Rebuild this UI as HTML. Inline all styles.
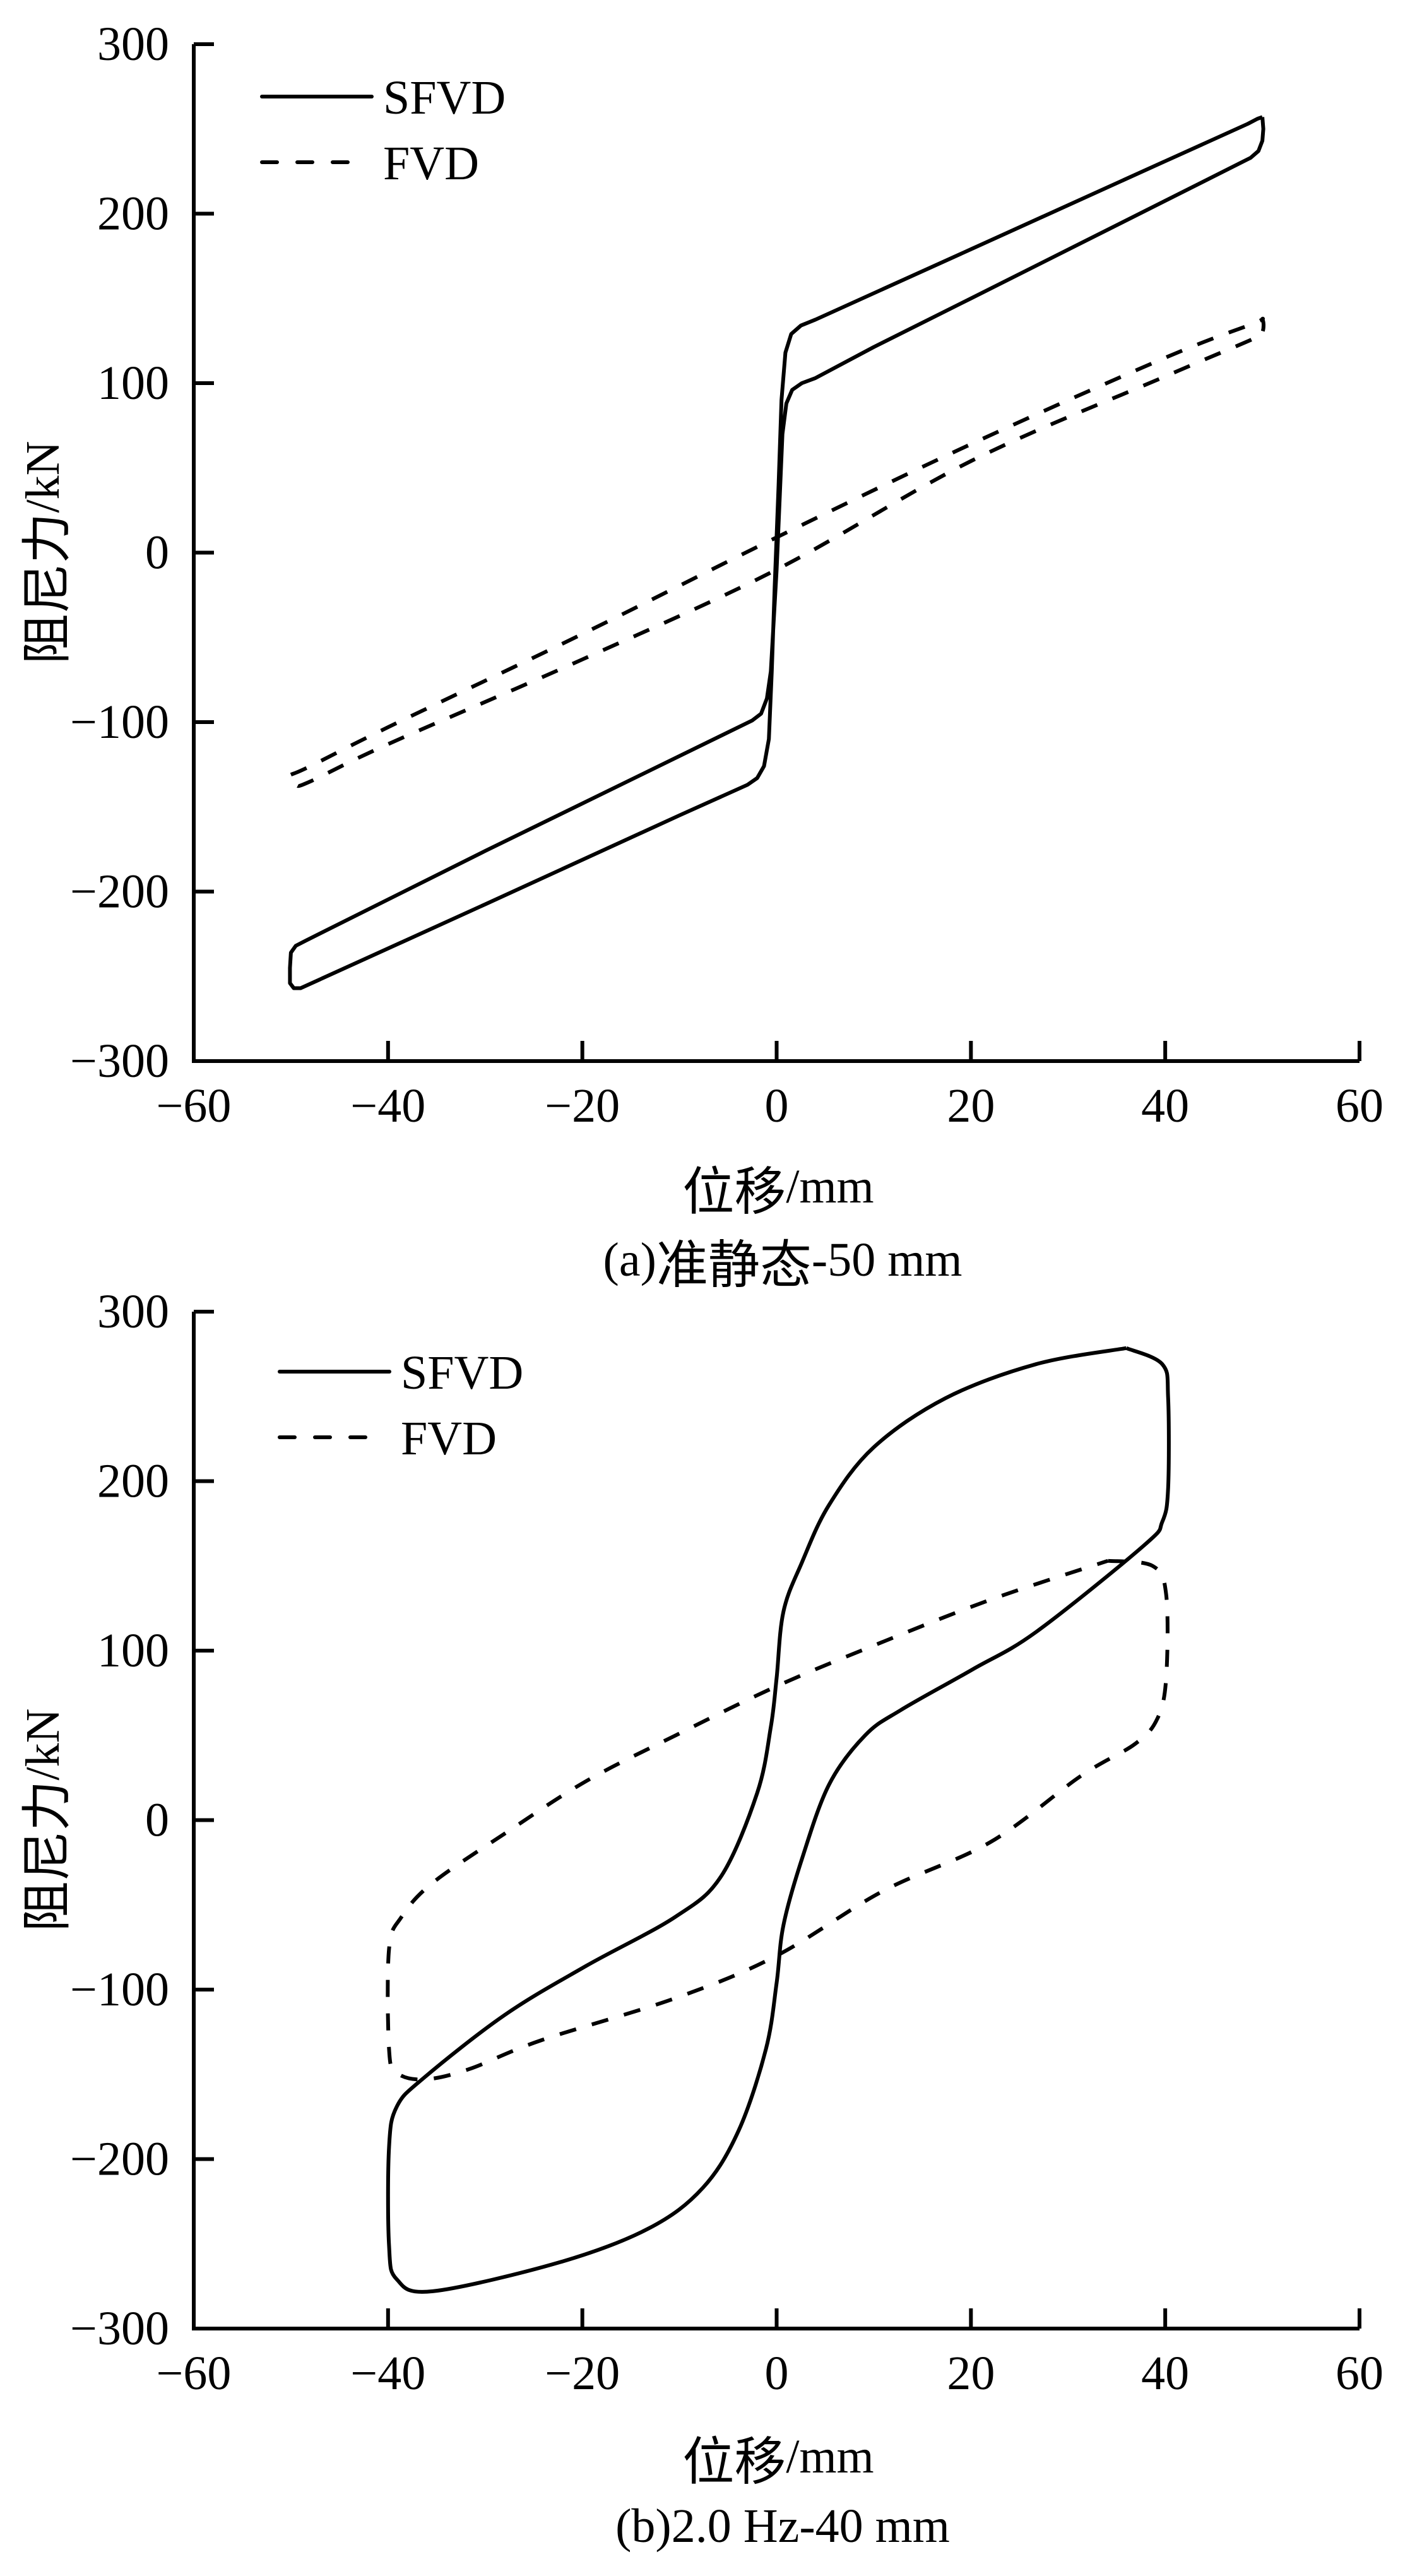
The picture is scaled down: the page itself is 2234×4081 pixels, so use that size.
<!DOCTYPE html>
<html><head><meta charset="utf-8"><style>
html,body{margin:0;padding:0;background:#fff;}
svg{display:block;}
text{font-family:"Liberation Serif","Noto Serif CJK SC",serif;fill:#000;}
.cjk{font-family:"Noto Sans CJK SC","WenQuanYi Zen Hei",sans-serif;}
</style></head>
<body>
<svg id="fig" width="2234" height="4081" viewBox="0 0 2234 4081" xmlns="http://www.w3.org/2000/svg"></svg>
<script>
// ---- data (x: displacement mm, y: force kN) ----
const xTicks = [-60, -40, -20, 0, 20, 40, 60];
const yTicks = [-300, -200, -100, 0, 100, 200, 300];
// chart (a) quasi-static 50 mm
const aSfvdX = [50, 50.1, 50, 49.6, 48.8, 40, 20, 10, 4, 2.6, 1.6, 1.0, 0.6, 0.3, 0, -0.3, -0.6, -1.0, -1.6, -2.5, -10, -30, -48.5, -49.5, -50, -50.1, -50.1, -49.7, -49, -30, -10, -3, -2, -1.3, -0.8, -0.5, -0.2, 0.2, 0.5, 0.9, 1.5, 2.5, 4, 20, 40, 48.5, 49.5, 50];
const aSfvdY = [257, 250, 243, 237, 233, 207.6, 150, 121.3, 103, 100, 96, 88, 70, 30, -10, -40, -70, -86, -95, -99, -120, -176, -229, -232, -236, -245, -254, -257, -257, -207.5, -155, -137, -133, -126, -110, -70, -20, 40, 90, 118, 129, 134, 137.5, 179, 231, 253, 256, 257];
const aFvdX = [-50, -48, -40, -20, 0, 20, 40, 49, 50, 50, 49, 40, 20, 0, -20, -40, -48, -49.5, -50];
const aFvdY = [-131, -126, -103, -48, 9, 64, 115, 135, 137.5, 130, 126, 104, 54, -10, -63, -113, -135, -137, -131];
// chart (b) 2.0 Hz 40 mm
const bSfvdX = [36, 39.7, 40.3, 40.3, 39.7, 37.8, 26.7, 20.2, 12.8, 9.1, 5.4, 2.6, 0.7, 0, -1.1, -3.9, -7.6, -13.2, -22.4, -35.4, -39.1, -39.9, -39.9, -39.1, -36.3, -28, -19.6, -10.4, -5.7, -2, -0.6, 0, 0.7, 2.6, 5.4, 10, 17.4, 26.7, 36];
const bSfvdY = [278.5, 269, 249, 196, 176, 162, 111, 89, 65, 50, 21, -23, -62, -96, -135, -183, -217, -241, -261, -278, -271, -251, -193, -169, -152, -115, -86, -57, -33, 16, 55, 84, 123, 152, 186, 220, 249, 269, 278.5];
const bFvdX = [34.1, 38.7, 40.1, 40.1, 39.2, 36.9, 31.3, 22, 10.9, 0, -10.4, -24.3, -31.7, -36.3, -39.1, -39.9, -39.9, -38.6, -35.4, -28, -19.6, -10.4, 0, 10, 22, 34.1];
const bFvdY = [153, 150, 133, 84, 60, 45, 26, -13, -42, -80, -105, -130, -147, -153, -149, -135, -76, -57, -37, -8, 23, 50, 79, 103, 130, 153];

const NS = "http://www.w3.org/2000/svg";
const svg = document.getElementById('fig');
function mk(tag, attrs, parent){
  const e = document.createElementNS(NS, tag);
  for (const k in attrs) e.setAttribute(k, attrs[k]);
  (parent||svg).appendChild(e);
  return e;
}
function linePath(pts){
  return 'M' + pts.map(p => p[0].toFixed(1) + ',' + p[1].toFixed(1)).join(' L');
}
function smoothPath(pts){
  let d = 'M' + pts[0][0].toFixed(1) + ',' + pts[0][1].toFixed(1);
  for (let i = 0; i < pts.length - 1; i++){
    const p0 = pts[Math.max(0,i-1)], p1 = pts[i], p2 = pts[i+1], p3 = pts[Math.min(pts.length-1,i+2)];
    const t = 6;
    const c1 = [p1[0] + (p2[0]-p0[0])/t, p1[1] + (p2[1]-p0[1])/t];
    const c2 = [p2[0] - (p3[0]-p1[0])/t, p2[1] - (p3[1]-p1[1])/t];
    d += ' C' + c1[0].toFixed(1) + ',' + c1[1].toFixed(1) + ' ' + c2[0].toFixed(1) + ',' + c2[1].toFixed(1) + ' ' + p2[0].toFixed(1) + ',' + p2[1].toFixed(1);
  }
  return d;
}

function drawChart(cfg){
  const g = mk('g', {});
  
  
  const L = 307, R = 2154, T = cfg.top, B = cfg.top + 1611;
  const sx = v => L + (v + 60) / 120 * (R - L);
  const sy = v => T + (300 - v) / 600 * (B - T);

  const ax = mk('path', {d:`M${L},${T} L${L},${B} L${R},${B}`, fill:'none', stroke:'#000', 'stroke-width':6}, g);
  
  

  xTicks.forEach(v => {
    const t = mk('line', {x1:sx(v), x2:sx(v), y1:B, y2:B-32, stroke:'#000', 'stroke-width':6}, g);
    
    
    const lb = mk('text', {x:sx(v), y:B+71, 'text-anchor':'middle', 'dominant-baseline':'central', 'font-size':76}, g);
    lb.textContent = v < 0 ? '\u2212' + (-v) : String(v);
    
    
  });
  yTicks.forEach(v => {
    const t = mk('line', {x1:L, x2:L+32, y1:sy(v), y2:sy(v), stroke:'#000', 'stroke-width':6}, g);
    
    
    const lb = mk('text', {x:268, y:sy(v), 'text-anchor':'end', 'dominant-baseline':'central', 'font-size':76}, g);
    lb.textContent = v < 0 ? '\u2212' + (-v) : String(v);
    
    
  });

  const s1 = cfg.sx1.map((x,i) => [sx(x), sy(cfg.sy1[i])]);
  const p1 = mk('path', {d:(cfg.smooth1 ? smoothPath : linePath)(s1), fill:'none', stroke:'#000', 'stroke-width':6, 'stroke-linejoin':'round'}, g);
  
  
  const s2 = cfg.sx2.map((x,i) => [sx(x), sy(cfg.sy2[i])]);
  const p2 = mk('path', {d:smoothPath(s2), fill:'none', stroke:'#000', 'stroke-width':6, 'stroke-linejoin':'round', 'stroke-dasharray':'27 26'}, g);
  
  

  const lg = mk('g', {}, g);
  
  
  const l1 = mk('line', {x1:cfg.lx, x2:cfg.lx+174, y1:cfg.ly, y2:cfg.ly, stroke:'#000', 'stroke-width':6, 'stroke-linecap':'round'}, lg);
  
  
  const t1 = mk('text', {x:cfg.lx+192, y:cfg.ly+27, 'font-size':76}, lg);
  t1.textContent = 'SFVD';
  
  
  const l2 = mk('line', {x1:cfg.lx, x2:cfg.lx+140, y1:cfg.ly+104, y2:cfg.ly+104, stroke:'#000', 'stroke-width':6, 'stroke-linecap':'round', 'stroke-dasharray':'24 32'}, lg);
  
  
  const t2 = mk('text', {x:cfg.lx+192, y:cfg.ly+131, 'font-size':76}, lg);
  t2.textContent = 'FVD';
  
  

  const yt = mk('text', {x:0, y:0, 'text-anchor':'middle', 'dominant-baseline':'central', 'font-size':76, transform:`translate(68,${(T+B)/2}) rotate(-90)`}, g);
  yt.innerHTML = '<tspan class="cjk" font-size="80">阻尼力</tspan>/kN';
  
  
  const xt = mk('text', {x:1233, y:cfg.xtY, 'text-anchor':'middle', 'dominant-baseline':'central', 'font-size':76}, g);
  xt.innerHTML = '<tspan class="cjk" font-size="82">位移</tspan>/mm';
  
  
  const cp = mk('text', {x:1240, y:cfg.capY, 'text-anchor':'middle', 'dominant-baseline':'central', 'font-size':76}, g);
  cp.innerHTML = cfg.caption;
  
  
}

drawChart({name:'chart-a-quasi-static', top:70, smooth1:false, sx1:aSfvdX, sy1:aSfvdY, sx2:aFvdX, sy2:aFvdY,
  lx:415, ly:153, xtY:1880, capY:1996,
  caption:'(a)<tspan class="cjk" font-size="82">准静态</tspan>-50 mm'});
drawChart({name:'chart-b-2hz', top:2078, smooth1:true, sx1:bSfvdX, sy1:bSfvdY, sx2:bFvdX, sy2:bFvdY,
  lx:443, ly:2173, xtY:3892, capY:4002,
  caption:'(b)2.0 Hz-40 mm'});
</script>
</body></html>
